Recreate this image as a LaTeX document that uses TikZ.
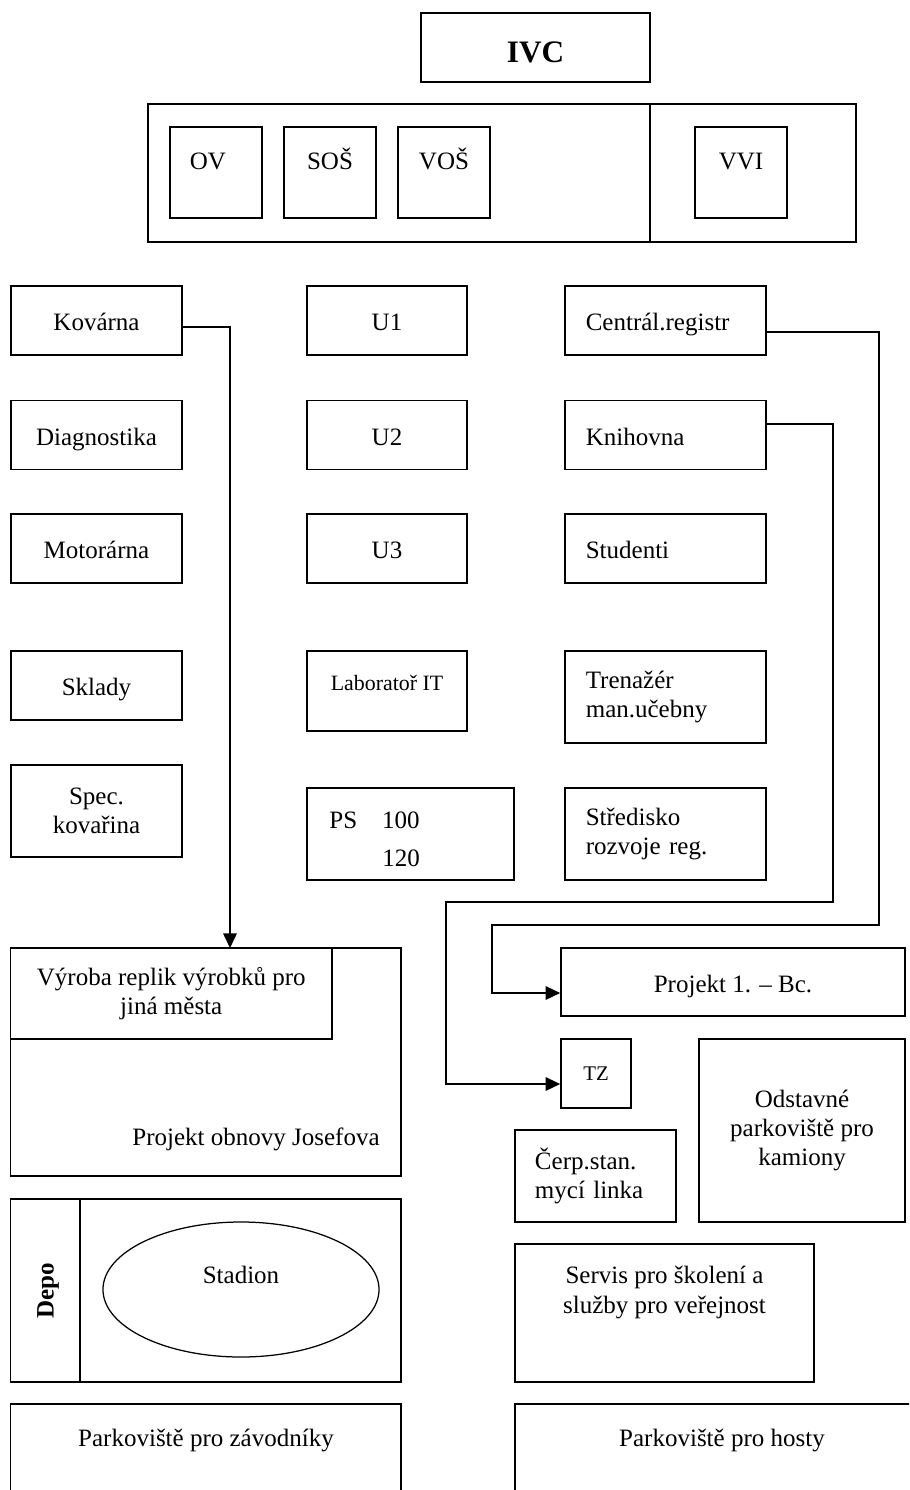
\documentclass[tikz,border=0pt]{standalone}
\usepackage{fontspec}
\setmainfont{Liberation Serif}
\usetikzlibrary{positioning,arrows.meta,shapes.geometric}

\begin{document}
\begin{tikzpicture}[
    x=0.48pt, y=-0.48pt,
    every node/.append style={font=\fontsize{12}{14}\selectfont},
    box/.style={rectangle, draw=black, line width=0.8pt, inner sep=0pt},
    multi/.style={align=center},
    single/.style={text height=10pt, text depth=0pt},
    unit/.style={box, minimum width=44.2pt, minimum height=43.7pt, text height=8pt, text depth=10.4pt},
    leftbox/.style={box, single, minimum width=82.1pt, minimum height=33.1pt},
    midbox/.style={box, single, minimum width=76.8pt, minimum height=33.1pt},
    rightbox/.style={box, align=left, text width=76.5pt, inner xsep=10pt, minimum height=33.1pt},
    boxtext/.style={inner sep=0pt, anchor=base},
    arrow/.style={line width=0.8pt, -{Triangle[length=7pt, width=6.5pt]}}
]
    \path[use as bounding box, clip] (0,0) rectangle (909,1490);

    % Vedeni a skoly
    \node[box, minimum width=109.9pt, minimum height=33.1pt, font=\fontsize{15}{18}\selectfont\bfseries, text height=14pt, text depth=0pt] (ivc) at (535.5,47.5) {IVC};
    \node[box, minimum width=241pt, minimum height=66.2pt] (skoly) at (399,173) {};
    \node[box, minimum width=98.9pt, minimum height=66.2pt] (vyzkum) at (753,173) {};
    \node[unit] (ov) at (216,172.5) {OV\hspace*{7.7pt}};
    \node[unit] (sos) at (330,172.5) {SOŠ};
    \node[unit] (vos) at (444,172.5) {VOŠ};
    \node[unit] (vvi) at (741,172.5) {VVI};

    % Levy sloupec
    \node[leftbox] (kovarna) at (96.5,320.5) {Kovárna};
    \node[leftbox] (diagnostika) at (96.5,435) {Diagnostika};
    \node[leftbox] (motorarna) at (96.5,548.5) {Motorárna};
    \node[leftbox] (sklady) at (96.5,685.5) {Sklady};
    \node[box, multi, minimum width=82.1pt, minimum height=44.2pt] (speckov) at (96.5,811) {Spec.\\kovařina};

    % Prostredni sloupec
    \node[midbox] (u1) at (387,320.5) {U1};
    \node[midbox] (u2) at (387,435) {U2};
    \node[midbox] (u3) at (387,548.5) {U3};
    \node[box, minimum width=76.8pt, minimum height=38.4pt, font=\fontsize{10.5}{12}\selectfont, text height=7pt, text depth=7.5pt] (lab) at (387,691) {Laboratoř IT};
    \node[box, minimum width=99.4pt, minimum height=44.2pt] (ps) at (410.5,834) {};
    \node[boxtext, anchor=base west] (pstext) at (329,828.5) {PS\quad 100};
    \node[boxtext, anchor=base west] (pstext2) at (382,866.5) {120};

    % Pravy sloupec
    \node[rightbox, single] (central) at (665.5,320.5) {Centrál.registr};
    \node[rightbox, single] (knihovna) at (665.5,435) {Knihovna};
    \node[rightbox, single] (studenti) at (665.5,548.5) {Studenti};
    \node[rightbox, minimum height=44.2pt] (trenazer) at (665.5,697) {Trenažér\\man.učebny};
    \node[rightbox, minimum height=44.2pt] (stredisko) at (665.5,834) {Středisko\\rozvoje reg.};

    % Projekty
    \node[box, minimum width=187.4pt, minimum height=109.4pt] (josefov) at (205.75,1062) {};
    \node[box, multi, minimum width=154.3pt, minimum height=43.7pt] (vyroba) at (171.25,993.5) {Výroba replik výrobků pro\\jiná města};
    \node[boxtext] (josefovtext) at (256,1145) {Projekt obnovy Josefova};
    \node[box, single, minimum width=165.1pt, minimum height=32.6pt] (projekt) at (733,982) {Projekt 1. -- Bc.};
    \node[box, minimum width=33.6pt, minimum height=33.1pt, font=\fontsize{10}{12}\selectfont, text height=6.6pt, text depth=0pt] (tz) at (596,1073.5) {TZ};
    \node[box, multi, minimum width=98.9pt, minimum height=87.8pt] (odstavne) at (802,1130.5) {Odstavné\\parkoviště pro\\kamiony};
    \node[box, align=left, text width=58.1pt, inner xsep=9.6pt, minimum height=44.2pt] (cerp) at (595.5,1176) {Čerp.stan.\\mycí linka};

    % Stadion a parkoviste
    \node[box, minimum width=187.4pt, minimum height=87.8pt] (arena) at (205.75,1290.5) {};
    \node[box, rotate=90, minimum width=87.8pt, minimum height=33.4pt, font=\fontsize{12}{14}\selectfont\bfseries, text height=8pt, text depth=0pt] (depo) at (45.25,1290.5) {Depo};
    \node[ellipse, draw=black, line width=0.6pt, inner sep=0pt, minimum width=132.5pt, minimum height=64.8pt, text height=8pt, text depth=14.2pt] (stadion) at (241,1289.5) {Stadion};
    \node[box, minimum width=143.5pt, minimum height=66.2pt] (servis) at (664.5,1313) {};
    \node[multi, inner sep=0pt, below=11pt of servis.north] (servistext) {Servis pro školení a\\služby pro veřejnost};
    \node[box, minimum width=187.4pt, minimum height=60.5pt] (parkzav) at (205.75,1467) {};
    \node[boxtext] (parkzavtext) at (206,1446) {Parkoviště pro závodníky};
    \node[box, minimum width=204pt, minimum height=60.5pt] (parkhost) at (727.5,1467) {};
    \node[boxtext] (parkhosttext) at (722,1446) {Parkoviště pro hosty};

    % Propojeni
    \coordinate (kovdrop) at (230,948);
    \coordinate (regturn) at (879,925);
    \coordinate (regdrop) at (492,993);
    \coordinate (libturn) at (833,902);
    \coordinate (libdrop) at (446,1084);
    \draw[arrow] ([yshift=-3pt]kovarna.east) -| (kovdrop);
    \draw[arrow] ([yshift=-5.5pt]central.east) -| (regturn) -| (regdrop) -- (regdrop -| projekt.west);
    \draw[arrow] ([yshift=5.3pt]knihovna.east) -| (libturn) -| (libdrop) -- (libdrop -| tz.west);
\end{tikzpicture}
\end{document}
